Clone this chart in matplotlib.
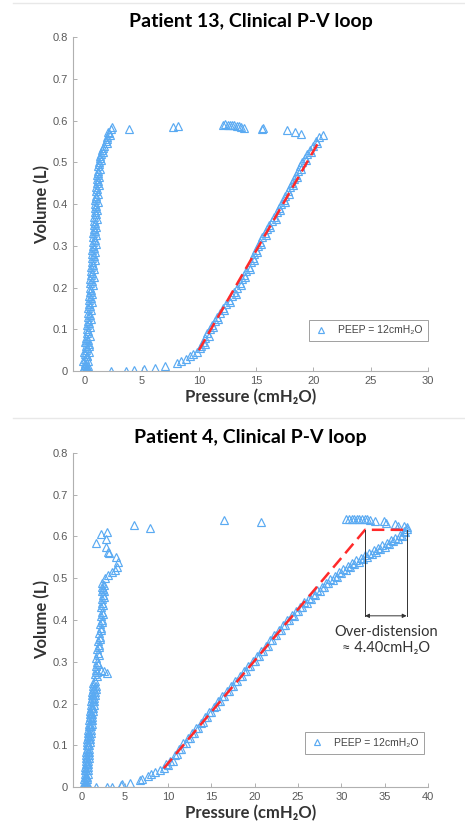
import matplotlib
matplotlib.use("Agg")
import matplotlib.pyplot as plt
from matplotlib.lines import Line2D

# ---------------- Patient 13 data (pressure cmH2O, volume L) ----------------
p13_band_p = [-0.05, 0.0, 0.02, 0.05, 0.08, 0.1, 0.12, 0.15, 0.17, 0.2, 0.22, 0.25, 0.27, 0.3, 0.32,
              0.35, 0.37, 0.4, 0.42, 0.45, 0.47, 0.5, 0.52, 0.55, 0.57, 0.6, 0.62, 0.65, 0.67, 0.7,
              0.72, 0.74, 0.76, 0.78, 0.8, 0.82, 0.84, 0.86, 0.88, 0.9, 0.92, 0.95, 0.98, 1.0, 1.03,
              1.06, 1.1, 1.13, 1.16, 1.2, 1.25, 1.32, 1.42, 1.55, 1.7, 1.85, 2.0, 2.15, 2.3]
p13_band_v = [0.00, 0.01, 0.02, 0.03, 0.04, 0.05, 0.06, 0.07, 0.08, 0.09, 0.10, 0.11, 0.12, 0.13, 0.14,
              0.15, 0.16, 0.17, 0.18, 0.19, 0.20, 0.21, 0.22, 0.23, 0.24, 0.25, 0.26, 0.27, 0.28, 0.29,
              0.30, 0.31, 0.32, 0.33, 0.34, 0.35, 0.36, 0.37, 0.38, 0.39, 0.40, 0.41, 0.42, 0.43, 0.44,
              0.45, 0.46, 0.47, 0.48, 0.49, 0.50, 0.51, 0.52, 0.53, 0.54, 0.55, 0.56, 0.57, 0.58]
p13_band2_p = [0.3, 0.35, 0.38, 0.42, 0.45, 0.5, 0.55, 0.6, 0.65, 0.7, 0.75, 0.8, 0.85, 0.9, 0.95,
               1.0, 1.02, 1.05, 1.08, 1.1, 1.15, 1.2, 1.25, 1.3, 1.35, 1.45, 1.65, 1.95, 2.25, 2.45,
               0.1, 0.2, 0.15, 0.05, 0.3, 0.25, 0.4, 2.1, -0.15, -0.1, 0.0, 0.05]
p13_band2_v = [0.005, 0.025, 0.045, 0.065, 0.085, 0.105, 0.125, 0.145, 0.165, 0.185, 0.205, 0.225,
               0.245, 0.265, 0.285, 0.305, 0.325, 0.345, 0.365, 0.385, 0.405, 0.425, 0.445, 0.465,
               0.485, 0.505, 0.525, 0.545, 0.565, 0.584,
               0.0, 0.003, 0.008, 0.015, 0.012, 0.035, 0.06, 0.572, 0.005, 0.025, 0.045, 0.07]
p13_band3_p = [0.15, 0.2, 0.25, 0.3, 0.35, 0.4, 0.45, 0.5, 0.55, 0.6, 0.65, 0.7, 0.75, 0.8, 0.85,
               0.88, 0.92, 0.95, 0.98, 1.0, 1.05, 1.1, 1.15, 1.22, 1.3, 1.4, 1.6, 1.95]
p13_band3_v = [0.015, 0.035, 0.055, 0.075, 0.095, 0.115, 0.135, 0.155, 0.175, 0.195, 0.215, 0.235,
               0.255, 0.275, 0.295, 0.315, 0.335, 0.355, 0.375, 0.395, 0.415, 0.435, 0.455, 0.475,
               0.495, 0.515, 0.535, 0.555]
# plateau near 0.58-0.59 L
p13_top_p = [3.9, 7.7, 8.2, 12.1, 12.3, 12.5, 12.7, 12.9, 13.1, 13.3, 13.5, 13.7, 13.9,
             15.5, 15.6, 17.7, 18.4, 18.9]
p13_top_v = [0.58, 0.585, 0.587, 0.59, 0.591, 0.59, 0.589, 0.59, 0.589, 0.588, 0.587, 0.585, 0.583,
             0.58, 0.582, 0.577, 0.572, 0.568]
# expiratory foot near 0 L
p13_foot_p = [2.3, 3.6, 4.3, 5.2, 6.2, 7.0, 8.1, 8.4, 8.9, 9.2, 9.5, 9.8, 10.1]
p13_foot_v = [0.0, 0.001, 0.002, 0.005, 0.008, 0.012, 0.02, 0.025, 0.03, 0.035, 0.04, 0.046, 0.055]
# rising limb
p13_rise_p = [10.2, 10.4, 10.55, 10.75, 10.95, 11.15, 11.4, 11.6, 11.85, 12.1, 12.35, 12.6, 12.85,
              13.1, 13.35, 13.55, 13.75, 13.95, 14.15, 14.35, 14.55, 14.7, 14.85, 15.0, 15.15, 15.35,
              15.55, 15.75, 15.95, 16.15, 16.4, 16.6, 16.8, 17.0, 17.2, 17.4, 17.55, 17.75, 17.95,
              18.15, 18.35, 18.5, 18.7, 18.85, 19.05, 19.25, 19.45, 19.7, 19.95, 20.2, 20.5, 20.8]
p13_rise_v = [0.06, 0.07, 0.08, 0.09, 0.10, 0.11, 0.12, 0.13, 0.14, 0.15, 0.16, 0.17, 0.18, 0.19,
              0.20, 0.21, 0.22, 0.23, 0.24, 0.25, 0.26, 0.27, 0.28, 0.29, 0.30, 0.31, 0.32, 0.33,
              0.34, 0.35, 0.36, 0.37, 0.38, 0.39, 0.40, 0.41, 0.42, 0.43, 0.44, 0.45, 0.46, 0.47,
              0.48, 0.49, 0.50, 0.51, 0.52, 0.53, 0.54, 0.55, 0.56, 0.565]
p13_rise2_p = [10.5, 10.85, 11.25, 11.7, 12.2, 12.7, 13.2, 13.65, 14.05, 14.45, 14.8, 15.1, 15.45,
               15.85, 16.25, 16.7, 17.1, 17.5, 17.85, 18.25, 18.6, 18.95, 19.35, 19.8, 20.3]
p13_rise2_v = [0.065, 0.085, 0.105, 0.125, 0.145, 0.165, 0.185, 0.205, 0.225, 0.245, 0.265, 0.285,
               0.305, 0.325, 0.345, 0.365, 0.385, 0.405, 0.425, 0.445, 0.465, 0.485, 0.505, 0.525,
               0.545]
p13_fit_p = [10.0, 20.6]
p13_fit_v = [0.05, 0.555]

# ---------------- Patient 4 data ----------------
p4_band_p = [0.2, 0.35, 0.5, 0.65, 0.3, 0.45, 0.6, 0.35, 0.5, 0.65, 0.4, 0.55, 0.7, 0.45, 0.6, 0.75,
             0.5, 0.65, 0.8, 0.55, 0.7, 0.85, 0.6, 0.75, 0.9, 0.65, 0.8, 0.95, 0.75, 0.9, 1.05,
             0.8, 0.95, 1.1, 0.9, 1.05, 1.2, 0.95, 1.1, 1.25, 1.05, 1.2, 1.35, 1.1, 1.3, 1.45,
             1.2, 1.35, 1.5, 1.3, 1.45, 1.6, 1.3, 1.5, 1.8, 2.2, 2.6, 2.9]
p4_band_v = [0.0, 0.0, 0.0, 0.0, 0.01, 0.01, 0.01, 0.025, 0.025, 0.025, 0.04, 0.04, 0.04, 0.055, 0.055,
             0.055, 0.07, 0.07, 0.07, 0.085, 0.085, 0.085, 0.1, 0.1, 0.1, 0.115, 0.115, 0.115,
             0.13, 0.13, 0.13, 0.145, 0.145, 0.145, 0.16, 0.16, 0.16, 0.175, 0.175, 0.175,
             0.19, 0.19, 0.19, 0.205, 0.205, 0.205, 0.22, 0.22, 0.22, 0.235, 0.235, 0.235,
             0.25, 0.255, 0.265, 0.28, 0.278, 0.274]
p4_band2_p = [0.28, 0.58, 0.32, 0.62, 0.38, 0.68, 0.42, 0.72, 0.48, 0.78, 0.52, 0.82, 0.58, 0.88,
              0.62, 0.92, 0.7, 1.0, 0.78, 1.08, 0.85, 1.15, 0.92, 1.22, 1.0, 1.3, 1.08, 1.38,
              1.15, 1.45, 1.25, 1.55, 1.3, 1.6]
p4_band2_v = [0.005, 0.005, 0.018, 0.018, 0.032, 0.032, 0.047, 0.047, 0.062, 0.062, 0.077, 0.077,
              0.092, 0.092, 0.107, 0.107, 0.122, 0.122, 0.137, 0.137, 0.152, 0.152, 0.167, 0.167,
              0.182, 0.182, 0.197, 0.197, 0.212, 0.212, 0.227, 0.227, 0.242, 0.242]
p4_upper_p = [1.5, 1.7, 1.6, 1.8, 1.7, 1.9, 1.8, 2.0, 1.9, 2.1, 2.0, 2.2, 2.1, 2.3, 2.2, 2.35,
              2.25, 2.4, 2.3, 2.45, 2.35, 2.5, 2.4, 2.55, 2.3, 2.68, 3.07, 3.45, 3.83, 4.14,
              4.2, 3.95, 3.2, 3.07, 2.87, 2.8, 2.95, 2.18, 1.65,
              1.75, 1.85, 1.95, 2.05, 2.15, 2.25, 2.35, 2.45, 2.5, 2.55, 2.6]
p4_upper_v = [0.27, 0.28, 0.29, 0.30, 0.31, 0.32, 0.33, 0.34, 0.35, 0.36, 0.37, 0.38, 0.39, 0.40,
              0.41, 0.42, 0.43, 0.44, 0.45, 0.46, 0.47, 0.475, 0.48, 0.485, 0.488, 0.5, 0.508,
              0.516, 0.52, 0.528, 0.54, 0.55, 0.56, 0.564, 0.576, 0.593, 0.611, 0.606, 0.585,
              0.275, 0.295, 0.315, 0.335, 0.355, 0.375, 0.395, 0.415, 0.435, 0.455, 0.47]
p4_top_p = [6.1, 7.85, 16.4, 20.7, 30.6, 30.9, 31.2, 31.5, 31.8, 32.1, 32.4, 32.7, 33.0, 33.3,
            33.9, 34.9, 35.2, 36.2, 36.6, 37.2, 37.6]
p4_top_v = [0.627, 0.62, 0.64, 0.634, 0.641, 0.641, 0.641, 0.641, 0.641, 0.641, 0.641, 0.641,
            0.641, 0.64, 0.638, 0.636, 0.633, 0.63, 0.626, 0.625, 0.622]
p4_foot_p = [1.6, 2.95, 3.45, 4.5, 4.7, 5.55, 6.7, 7.0, 7.66, 8.0, 8.5, 9.0]
p4_foot_v = [0.0, 0.0, 0.0, 0.005, 0.007, 0.009, 0.016, 0.02, 0.026, 0.03, 0.035, 0.04]
p4_rise_p = [9.5, 10.0, 10.5, 11.0, 11.5, 12.0, 12.5, 13.0, 13.5, 14.0, 14.5, 15.0, 15.5, 16.0,
             16.5, 17.0, 17.5, 18.0, 18.5, 19.0, 19.5, 20.0, 20.5, 21.0, 21.5, 22.0, 22.5, 23.0,
             23.5, 24.0, 24.5, 25.0, 25.5, 26.0, 26.5, 27.0, 27.5, 28.0, 28.5, 29.0, 29.5, 30.0,
             30.5, 31.0, 31.5, 32.0, 32.5, 33.0, 33.5, 34.0, 34.5, 35.0, 35.5, 36.0, 36.5, 37.0,
             37.4, 37.6]
p4_rise_v = [0.045, 0.052, 0.062, 0.078, 0.092, 0.105, 0.117, 0.13, 0.142, 0.155, 0.167, 0.18,
             0.193, 0.205, 0.218, 0.23, 0.242, 0.254, 0.266, 0.278, 0.29, 0.302, 0.314, 0.326,
             0.338, 0.351, 0.363, 0.376, 0.388, 0.399, 0.41, 0.421, 0.431, 0.441, 0.451, 0.461,
             0.47, 0.479, 0.488, 0.496, 0.504, 0.512, 0.519, 0.526, 0.533, 0.54, 0.546, 0.552,
             0.558, 0.564, 0.57, 0.576, 0.582, 0.588, 0.595, 0.602, 0.61, 0.617]
p4_rise2_p = [9.75, 10.25, 10.75, 11.25, 11.75, 12.25, 12.75, 13.25, 13.75, 14.25, 14.75, 15.25,
              15.75, 16.25, 16.75, 17.25, 17.75, 18.25, 18.75, 19.25, 19.75, 20.25, 20.75, 21.25,
              21.75, 22.25, 22.75, 23.25, 23.75, 24.25, 24.75, 25.25, 25.75, 26.25, 26.75, 27.25,
              27.75, 28.25, 28.75, 29.25, 29.75, 30.25, 30.75, 31.25, 31.75, 32.25, 32.75, 33.25,
              33.75, 34.25, 34.75, 35.25, 35.75, 36.25, 36.75, 37.2]
p4_rise2_v = [0.055, 0.063, 0.076, 0.091, 0.105, 0.117, 0.129, 0.142, 0.154, 0.167, 0.179, 0.192,
              0.205, 0.217, 0.23, 0.242, 0.254, 0.266, 0.278, 0.29, 0.302, 0.314, 0.326, 0.338,
              0.351, 0.363, 0.376, 0.388, 0.4, 0.411, 0.422, 0.432, 0.442, 0.452, 0.462, 0.471,
              0.48, 0.489, 0.498, 0.506, 0.514, 0.522, 0.529, 0.536, 0.543, 0.549, 0.555, 0.561,
              0.567, 0.573, 0.579, 0.585, 0.591, 0.597, 0.604, 0.612]
p4_fit_p = [9.5, 32.75, 37.55]
p4_fit_v = [0.045, 0.616, 0.616]
od_left, od_right, od_low = 32.75, 37.55, 0.41

BLUE = "#5aaaf2"
LBL = ["Lato", "DejaVu Sans"]
TCK = ["Liberation Sans", "DejaVu Sans"]

fig = plt.figure(figsize=(4.65, 8.26), dpi=100)

# faint separators of the composite figure
fig.add_artist(Line2D([0.028, 1.0], [0.996, 0.996], color="#e8e8e8", lw=1))
fig.add_artist(Line2D([0.028, 1.0], [0.494, 0.494], color="#e8e8e8", lw=1))


def draw_panel(ax, groups, fit_p, fit_v, xmax, title, leg_anchor):
    first = True
    for p, v in groups:
        ax.plot(p, v, "^", mfc="none", mec=BLUE, ms=5.5, mew=0.85,
                label="PEEP = 12cmH₂O" if first else None)
        first = False
    ax.plot(fit_p, fit_v, "--", color="#ff2a2a", lw=1.8, dashes=(5, 2.5))
    ax.set_xlim(-1, xmax)
    ax.set_ylim(0, 0.8)
    ax.set_xticks(range(0, xmax + 1, 5))
    ax.set_yticks([0, 0.1, 0.2, 0.3, 0.4, 0.5, 0.6, 0.7, 0.8])
    ax.set_yticklabels(["0", "0.1", "0.2", "0.3", "0.4", "0.5", "0.6", "0.7", "0.8"])
    for s in ["top", "right"]:
        ax.spines[s].set_visible(False)
    for s in ["left", "bottom"]:
        ax.spines[s].set_color("#b0b0b0")
        ax.spines[s].set_linewidth(0.8)
    ax.tick_params(direction="in", length=3, width=0.7, color="#b0b0b0",
                   labelsize=8, labelcolor="#5a5a5a")
    for lab in ax.get_xticklabels() + ax.get_yticklabels():
        lab.set_family(TCK)
    ax.set_title(title, fontsize=14, fontweight="bold", family=LBL, pad=7)
    ax.set_xlabel("Pressure (cmH₂O)", fontsize=12, fontweight="bold", family=LBL,
                  color="#333333", labelpad=2)
    ax.set_ylabel("Volume (L)", fontsize=12, fontweight="bold", family=LBL,
                  color="#333333", labelpad=2)
    leg = ax.legend(loc="lower right", bbox_to_anchor=leg_anchor, borderaxespad=0,
                    prop={"family": TCK, "size": 7.5}, fancybox=False, handlelength=1.2,
                    handletextpad=1.0, borderpad=0.55, labelcolor="#444444",
                    markerscale=0.8)
    leg.get_frame().set_edgecolor("#888888")
    leg.get_frame().set_linewidth(0.7)


ax1 = fig.add_axes([0.157, 0.5508, 0.763, 0.4044])
draw_panel(ax1,
           [(p13_band_p, p13_band_v), (p13_band2_p, p13_band2_v), (p13_band3_p, p13_band3_v),
            (p13_top_p, p13_top_v), (p13_foot_p, p13_foot_v), (p13_rise_p, p13_rise_v),
            (p13_rise2_p, p13_rise2_v)],
           p13_fit_p, p13_fit_v, 30, "Patient 13, Clinical P-V loop", (1.0, 0.09))

ax2 = fig.add_axes([0.157, 0.0472, 0.763, 0.4044])
draw_panel(ax2,
           [(p4_band_p, p4_band_v), (p4_band2_p, p4_band2_v), (p4_upper_p, p4_upper_v),
            (p4_top_p, p4_top_v), (p4_foot_p, p4_foot_v), (p4_rise_p, p4_rise_v),
            (p4_rise2_p, p4_rise2_v)],
           p4_fit_p, p4_fit_v, 40, "Patient 4, Clinical P-V loop", (0.99, 0.10))

# over-distension annotation
ax2.plot([od_left, od_left], [od_low, p4_fit_v[1]], color="#333333", lw=0.7)
ax2.plot([od_right, od_right], [od_low, p4_fit_v[1]], color="#333333", lw=0.7)
ax2.annotate("", xy=(od_left, od_low), xytext=(od_right, od_low),
             arrowprops=dict(arrowstyle="<|-|>", color="#333333", lw=0.7,
                             mutation_scale=6, shrinkA=0, shrinkB=0))
ax2.text(35.2, 0.353, "Over-distension\n≈ 4.40cmH₂O", ha="center", va="center",
         fontsize=10.5, family=LBL, color="#333333", linespacing=1.2, clip_on=False)

fig.savefig("out.png", dpi=100)
